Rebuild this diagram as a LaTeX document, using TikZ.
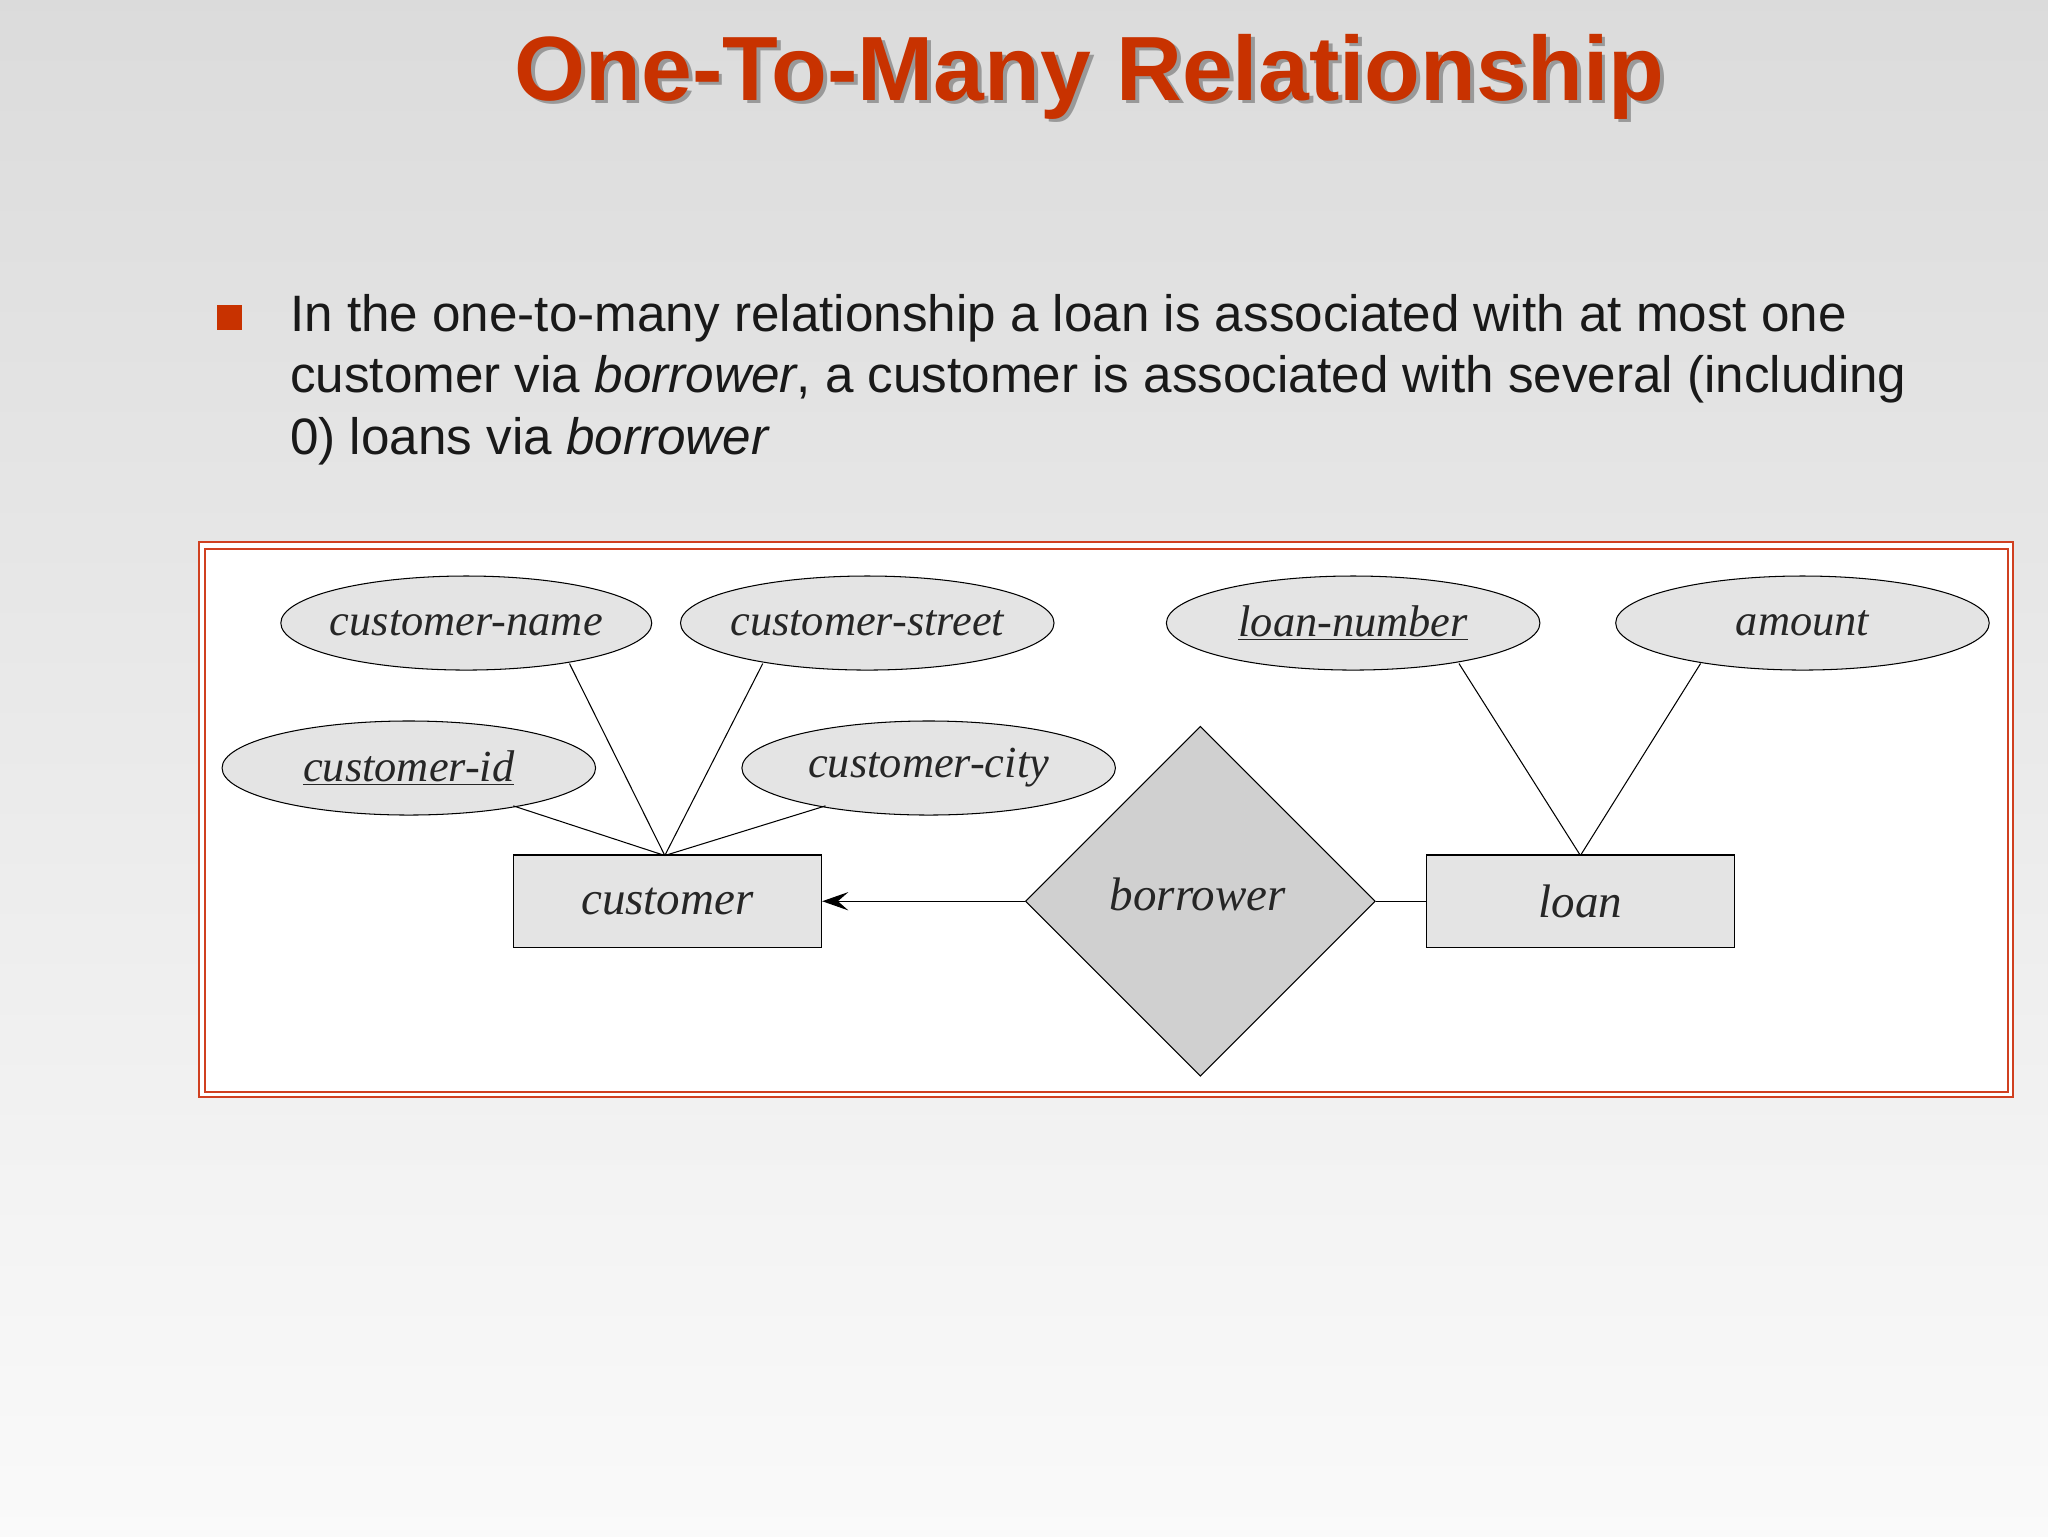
\documentclass[tikz,border=0pt]{standalone}
\usepackage{fontspec}
\setmainfont{Liberation Sans}
\newfontfamily\erfont{Liberation Serif}
\usetikzlibrary{shapes.geometric,arrows.meta}
\definecolor{titlered}{HTML}{C83200}
\definecolor{boxred}{HTML}{D04020}
\definecolor{ergray}{HTML}{E4E4E4}
\definecolor{dgray}{HTML}{D0D0D0}
\tikzset{
  attr/.style={ellipse,draw=black,fill=ergray,line width=0.8pt,minimum width=284pt,minimum height=72pt,inner xsep=-30pt,inner ysep=0pt,font=\erfont\itshape\fontsize{34}{38}\selectfont,text=black!85},
  ent/.style={rectangle,draw=black,fill=ergray,line width=1pt,minimum width=236pt,minimum height=71pt,inner sep=0pt,font=\erfont\itshape\fontsize{36}{40}\selectfont,text=black!85},
  rel/.style={diamond,draw=black,fill=dgray,line width=0.8pt,minimum width=268pt,minimum height=268pt,inner sep=0pt},
  conn/.style={line width=0.8pt,draw=black}
}
\begin{document}
\begin{tikzpicture}[x=1pt,y=-1pt]
\shade[top color=black!14,bottom color=black!2] (0,0) rectangle (1568,1176);
\useasboundingbox (0,0) rectangle (1568,1176);
% title
\node[font=\bfseries\fontsize{69.9}{78}\selectfont,text=titlered] (title) at (834,60)
 {\rlap{\kern3pt\raisebox{-3pt}{\textcolor{black!40}{One-To-Many Relationship}}}One-To-Many Relationship};
% bullet
\node[fill=titlered,minimum size=19pt,inner sep=0pt] (bul) at (176,243) {};
\node[anchor=north west,align=left,font=\fontsize{39.2}{47}\selectfont,text=black!90,inner sep=0pt] (txt) at (222,225)
 {In the one-to-many relationship a loan is associated with at most one\\customer via \textit{borrower}, a customer is associated with several (including\\0) loans via \textit{borrower}};
% frame
\draw[boxred,line width=1.5pt,fill=white] (152,415) rectangle (1541,840);
\draw[boxred,line width=1.5pt] (157,420) rectangle (1537,836);
% nodes
\node[attr] (cname) at (357,477) {customer-name};
\node[attr,minimum width=286pt] (cstreet) at (664,477) {customer-street};
\node[attr,minimum width=286pt] (cid) at (313,588) {\underline{customer-id}};
\node[attr,minimum width=286pt] (ccity) at (711,588) {customer-city};
\node[attr,minimum width=286pt] (lnum) at (1036,477) {\underline{loan-number}};
\node[attr,minimum width=286pt] (amt) at (1380,477) {amount};
\node[ent] (cust) at (511,690) {customer};
\node[ent] (loan) at (1210,690) {loan};
\node[rel] (borr) at (919,690) {};
\node[font=\erfont\itshape\fontsize{36}{40}\selectfont,text=black!85] (borrlbl) at (917,685) {borrower};
\coordinate (ctop) at (509,655);
\coordinate (ltop) at (1210,655);
\coordinate (pname) at (436,508);
\coordinate (pstreet) at (584,508);
\coordinate (pid) at (393,617);
\coordinate (pcity) at (632,617);
\coordinate (plnum) at (1117,508);
\coordinate (pamt) at (1302,508);
\draw[conn] (pname) -- (ctop);
\draw[conn] (pstreet) -- (ctop);
\draw[conn] (pid) -- (ctop);
\draw[conn] (pcity) -- (ctop);
\draw[conn] (plnum) -- (ltop);
\draw[conn] (pamt) -- (ltop);
\draw[conn,-{Stealth[length=20pt,width=14pt,inset=8pt]}] (borr.west) -- (cust.east);
\draw[conn] (borr.east) -- (loan.west);
\end{tikzpicture}
\end{document}
